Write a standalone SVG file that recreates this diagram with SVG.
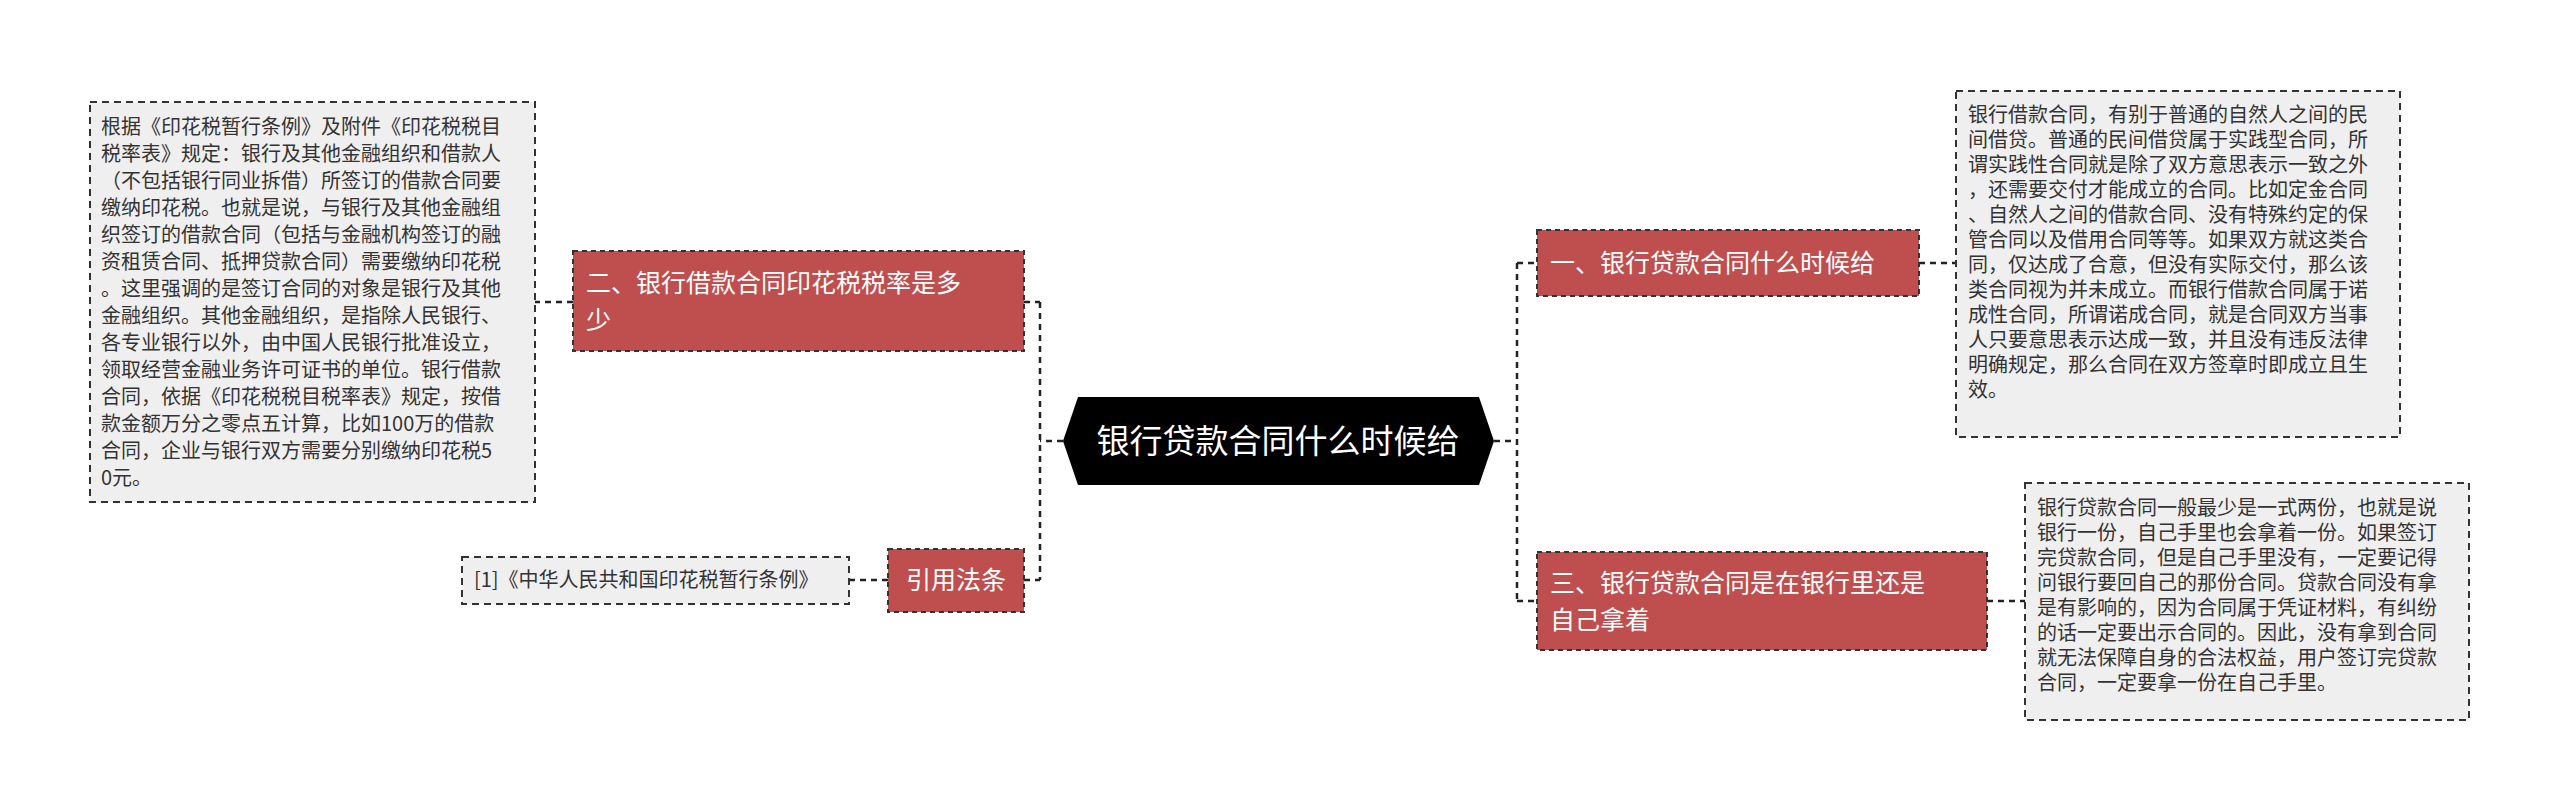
<svg xmlns="http://www.w3.org/2000/svg" width="2560" height="812" viewBox="0 0 2560 812">
<style>
text{font-family:"Noto Sans CJK SC","Liberation Sans",sans-serif}
.d{fill:#efefef;stroke:#333;stroke-width:2;stroke-dasharray:7 5}
.dt{font-size:20px;fill:#333}
.r{fill:#bf4e4e;stroke:#333;stroke-width:2;stroke-dasharray:5 4}
.rt{font-size:25px;fill:#fff}
.c{fill:none;stroke:#222;stroke-width:2.5;stroke-dasharray:6 5}
</style>
<rect width="2560" height="812" fill="#fff"/>
<g id="connectors">
<path class="c" d="M1063 441H1040M1040 302V580M1024 302H1040M1024 580H1040"/>
<path class="c" d="M1494 441H1517M1517 263V601M1517 263H1537M1517 601H1537"/>
<path class="c" d="M573 302H535M888 580H849M1919 263H1956M1987 601H2025"/>
</g>
<g id="center">
<polygon points="1063,441 1078,397 1479,397 1494,441 1479,485 1078,485" fill="#000"/>
<text x="1278" y="453" font-size="33" fill="#fff" text-anchor="middle">银行贷款合同什么时候给</text>
</g>
<g id="n2">
<rect class="r" x="573" y="251" width="451" height="100"/>
<text class="rt" x="586" y="292">二、银行借款合同印花税税率是多</text>
<text class="rt" x="586" y="329">少</text>
</g>
<g id="n2d">
<rect class="d" x="90" y="102" width="445" height="400"/>
<text class="dt"><tspan x="101" y="134">根据《印花税暂行条例》及附件《印花税税目</tspan><tspan x="101" y="161">税率表》规定：银行及其他金融组织和借款人</tspan><tspan x="101" y="188">（不包括银行同业拆借）所签订的借款合同要</tspan><tspan x="101" y="215">缴纳印花税。也就是说，与银行及其他金融组</tspan><tspan x="101" y="242">织签订的借款合同（包括与金融机构签订的融</tspan><tspan x="101" y="269">资租赁合同、抵押贷款合同）需要缴纳印花税</tspan><tspan x="101" y="296">。这里强调的是签订合同的对象是银行及其他</tspan><tspan x="101" y="323">金融组织。其他金融组织，是指除人民银行、</tspan><tspan x="101" y="350">各专业银行以外，由中国人民银行批准设立，</tspan><tspan x="101" y="377">领取经营金融业务许可证书的单位。银行借款</tspan><tspan x="101" y="404">合同，依据《印花税税目税率表》规定，按借</tspan><tspan x="101" y="431">款金额万分之零点五计算，比如100万的借款</tspan><tspan x="101" y="458">合同，企业与银行双方需要分别缴纳印花税5</tspan><tspan x="101" y="485">0元。</tspan></text>
</g>
<g id="ref">
<rect class="r" x="888" y="549" width="136" height="63"/>
<text class="rt" x="956" y="589" text-anchor="middle">引用法条</text>
</g>
<g id="refd">
<rect class="d" x="462" y="557" width="387" height="47"/>
<text class="dt" x="474" y="587" font-size="19">[1]《中华人民共和国印花税暂行条例》</text>
</g>
<g id="n1">
<rect class="r" x="1537" y="230" width="382" height="66"/>
<text class="rt" x="1550" y="272">一、银行贷款合同什么时候给</text>
</g>
<g id="n1d">
<rect class="d" x="1956" y="91" width="444" height="346"/>
<text class="dt"><tspan x="1968" y="122">银行借款合同，有别于普通的自然人之间的民</tspan><tspan x="1968" y="147">间借贷。普通的民间借贷属于实践型合同，所</tspan><tspan x="1968" y="172">谓实践性合同就是除了双方意思表示一致之外</tspan><tspan x="1968" y="197">，还需要交付才能成立的合同。比如定金合同</tspan><tspan x="1968" y="222">、自然人之间的借款合同、没有特殊约定的保</tspan><tspan x="1968" y="247">管合同以及借用合同等等。如果双方就这类合</tspan><tspan x="1968" y="272">同，仅达成了合意，但没有实际交付，那么该</tspan><tspan x="1968" y="297">类合同视为并未成立。而银行借款合同属于诺</tspan><tspan x="1968" y="322">成性合同，所谓诺成合同，就是合同双方当事</tspan><tspan x="1968" y="347">人只要意思表示达成一致，并且没有违反法律</tspan><tspan x="1968" y="372">明确规定，那么合同在双方签章时即成立且生</tspan><tspan x="1968" y="397">效。</tspan></text>
</g>
<g id="n3">
<rect class="r" x="1537" y="552" width="450" height="98"/>
<text class="rt" x="1550" y="592">三、银行贷款合同是在银行里还是</text>
<text class="rt" x="1550" y="629">自己拿着</text>
</g>
<g id="n3d">
<rect class="d" x="2025" y="483" width="444" height="237"/>
<text class="dt"><tspan x="2037" y="515">银行贷款合同一般最少是一式两份，也就是说</tspan><tspan x="2037" y="540">银行一份，自己手里也会拿着一份。如果签订</tspan><tspan x="2037" y="565">完贷款合同，但是自己手里没有，一定要记得</tspan><tspan x="2037" y="590">问银行要回自己的那份合同。贷款合同没有拿</tspan><tspan x="2037" y="615">是有影响的，因为合同属于凭证材料，有纠纷</tspan><tspan x="2037" y="640">的话一定要出示合同的。因此，没有拿到合同</tspan><tspan x="2037" y="665">就无法保障自身的合法权益，用户签订完贷款</tspan><tspan x="2037" y="690">合同，一定要拿一份在自己手里。</tspan></text>
</g>
</svg>
